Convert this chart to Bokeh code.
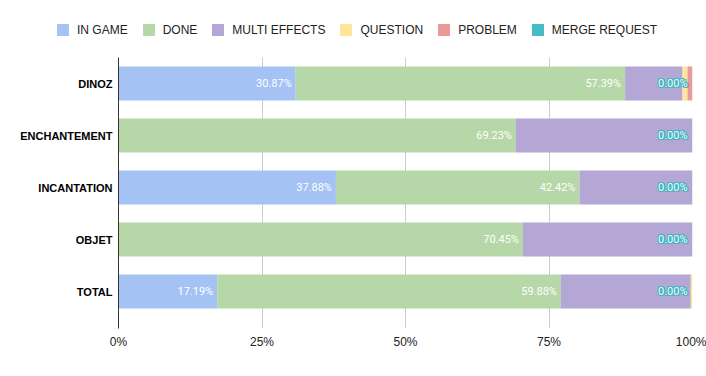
from bokeh.plotting import figure
from bokeh.layouts import column
from bokeh.models import ColumnDataSource, Range1d, FixedTicker, Div
from bokeh.core.properties import value
from bokeh.embed import file_html
from bokeh.resources import INLINE

categories = ["DINOZ", "ENCHANTEMENT", "INCANTATION", "OBJET", "TOTAL"]
in_game = [30.87, 0.0, 37.88, 0.0, 17.19]
done = [57.39, 69.23, 42.42, 70.45, 59.88]
multi_effects = [10.00, 30.77, 19.70, 29.55, 22.63]
question = [0.87, 0.0, 0.0, 0.0, 0.30]
problem = [0.87, 0.0, 0.0, 0.0, 0.0]
merge_request = [0.0, 0.0, 0.0, 0.0, 0.0]

series_names = ["IN GAME", "DONE", "MULTI EFFECTS", "QUESTION", "PROBLEM", "MERGE REQUEST"]
series_keys = ["in_game", "done", "multi", "question", "problem", "merge"]
colors = ["#a4c2f4", "#b6d7a8", "#b4a7d6", "#ffe599", "#ea9999", "#46bdc6"]
x_ticks = [0, 25, 50, 75, 100]
x_tick_labels = ["0%", "25%", "50%", "75%", "100%"]

ypos = list(range(len(categories)))
data = dict(y=ypos, in_game=in_game, done=done, multi=multi_effects,
            question=question, problem=problem, merge=merge_request)
source = ColumnDataSource(data)

# ---------- legend strip (HTML) ----------
items_html = ""
for k, (n, c) in enumerate(zip(series_names, colors)):
    ml = "0" if k == 0 else "15px"
    items_html += (
        f'<span style="display:inline-flex;align-items:center;margin-left:{ml};">'
        f'<span style="display:inline-block;width:12px;height:12px;background:{c};'
        f'margin-right:8px;"></span>'
        f'<span style="font-family:\'Liberation Sans\',Arial,sans-serif;font-size:12px;'
        f'color:#222222;line-height:12px;white-space:nowrap;">{n}</span></span>'
    )
legend_div = Div(
    text=(f'<div style="display:flex;align-items:center;padding-left:57px;'
          f'padding-top:30px;height:12px;">{items_html}</div>'),
    width=706, height=57, margin=0,
)

# ---------- main chart ----------
p = figure(width=706, height=311, output_backend="svg", toolbar_location=None,
           x_range=Range1d(0, 100), y_range=Range1d(4.7115, -0.5),
           min_border_left=118, min_border_right=14, min_border_top=0,
           min_border_bottom=40, margin=0)
p.outline_line_color = None

renderers = p.hbar_stack(series_keys, y="y", height=0.654, color=colors,
                         line_color=None, source=source)

# data labels
lab_x, lab_y, lab_t = [], [], []
for i in range(len(categories)):
    if in_game[i] > 0:
        lab_x.append(in_game[i]); lab_y.append(i); lab_t.append(f"{in_game[i]:.2f}%")
    lab_x.append(in_game[i] + done[i]); lab_y.append(i); lab_t.append(f"{done[i]:.2f}%")
m_x, m_y, m_t = [], [], []
for i in range(len(categories)):
    end = in_game[i] + done[i] + multi_effects[i] + question[i] + problem[i] + merge_request[i]
    m_x.append(end); m_y.append(i); m_t.append(f"{merge_request[i]:.2f}%")

p.text(x=lab_x, y=lab_y, text=lab_t, text_align="right", text_baseline="middle",
       x_offset=-4, text_color="white", text_font=value("Roboto"),
       text_font_size="11px")
# teal halo for merge-request labels
for dx, dy in [(-1, 0), (1, 0), (0, -1), (0, 1), (-1, -1), (1, 1), (-1, 1), (1, -1)]:
    p.text(x=m_x, y=m_y, text=m_t, text_align="right", text_baseline="middle",
           x_offset=-5 + dx, y_offset=dy, text_color="#3fb6c1",
           text_font=value("Roboto"), text_font_size="11px")
p.text(x=m_x, y=m_y, text=m_t, text_align="right", text_baseline="middle",
       x_offset=-5, text_color="#effcfc", text_font=value("Roboto"),
       text_font_size="11px")

# axes
p.ygrid.visible = False
p.xgrid.grid_line_color = "#cccccc"
p.xgrid.ticker = FixedTicker(ticks=x_ticks)

xa = p.xaxis[0]
xa.ticker = FixedTicker(ticks=x_ticks)
xa.major_label_overrides = {t: l for t, l in zip(x_ticks, x_tick_labels)}
xa.axis_line_color = None
xa.major_tick_line_color = None
xa.minor_tick_line_color = None
xa.major_label_standoff = 0
xa.major_label_text_font = "Liberation Sans"
xa.major_label_text_font_size = "12px"
xa.major_label_text_color = "#222222"

ya = p.yaxis[0]
ya.ticker = FixedTicker(ticks=ypos)
ya.major_label_overrides = {i: c for i, c in zip(ypos, categories)}
ya.axis_line_color = "#333333"
ya.axis_line_width = 1
ya.major_tick_line_color = None
ya.minor_tick_line_color = None
ya.major_label_standoff = 0
ya.major_label_text_font = "Liberation Sans"
ya.major_label_text_font_style = "bold"
ya.major_label_text_font_size = "11px"
ya.major_label_text_color = "#000000"

layout = column(legend_div, p, spacing=0)
open("out.html", "w").write(file_html(layout, INLINE))
